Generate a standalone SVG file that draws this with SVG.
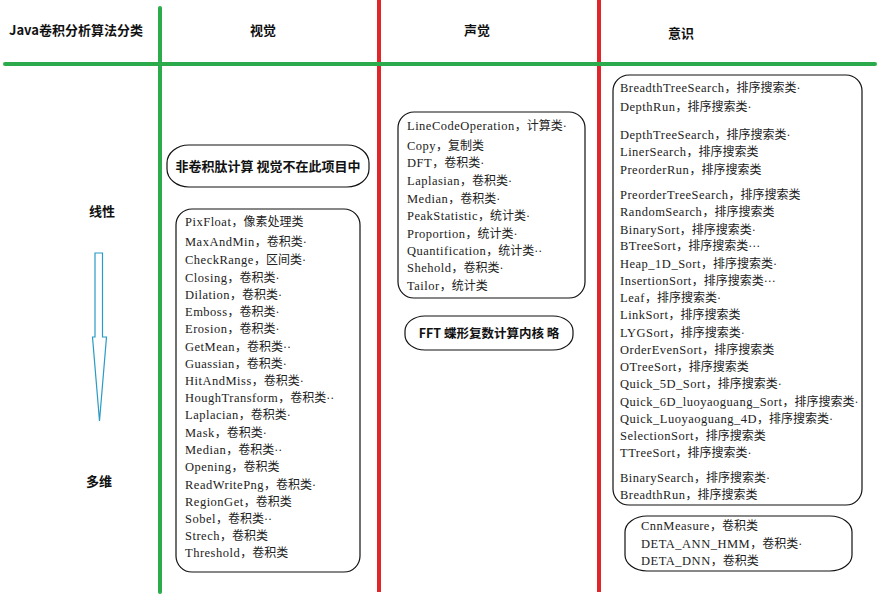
<svg xmlns="http://www.w3.org/2000/svg" width="892" height="607" viewBox="0 0 892 607">
<style>
.hd{font-family:"Noto Sans CJK SC","Liberation Sans",sans-serif;font-weight:bold;font-size:13px;fill:#111}
.li{font-family:"Liberation Serif","Noto Sans CJK SC",serif;font-size:12px;fill:#222}
.li tspan{font-size:12.5px;letter-spacing:0.5px}
.bx{fill:#fff;stroke:#111;stroke-width:1.2}
.g{stroke:#2bab4c;stroke-width:4;stroke-linecap:round}
.r{stroke:#e0262b;stroke-width:4}
</style>
<rect width="892" height="607" fill="#fff"/>
<g id="connectors">
<line class="r" x1="379" y1="0" x2="379" y2="592"/>
<line class="r" x1="599" y1="0" x2="599" y2="592"/>
<line class="g" x1="160" y1="8" x2="160" y2="592"/>
<line class="g" x1="5" y1="64" x2="875" y2="64"/>
<polygon points="95,253 102.5,253 102.5,337 106.5,337 99.5,421 92.5,337 95,337" fill="#fff" stroke="#2a9bc4" stroke-width="1.2"/>
</g>
<g id="header">
<text class="hd" x="76" y="35" text-anchor="middle">Java卷积分析算法分类</text>
<text class="hd" x="263" y="35" text-anchor="middle">视觉</text>
<text class="hd" x="477" y="35" text-anchor="middle">声觉</text>
<text class="hd" x="681" y="38" text-anchor="middle">意识</text>
<text class="hd" x="102" y="216" text-anchor="middle">线性</text>
<text class="hd" x="99" y="486" text-anchor="middle">多维</text>
</g>
<g id="note-vision">
<rect class="bx" x="167" y="145" width="202" height="42" rx="22" ry="18"/>
<text class="hd" x="268" y="171" text-anchor="middle">非卷积肽计算 视觉不在此项目中</text>
</g>
<g id="list-vision">
<rect class="bx" x="176" y="209" width="184" height="363" rx="16"/>
<g class="li">
<text x="185" y="226"><tspan>PixFloat</tspan>，像素处理类</text>
<text x="185" y="246"><tspan>MaxAndMin</tspan>，卷积类·</text>
<text x="185" y="264"><tspan>CheckRange</tspan>，区间类·</text>
<text x="185" y="282"><tspan>Closing</tspan>，卷积类·</text>
<text x="185" y="299"><tspan>Dilation</tspan>，卷积类·</text>
<text x="185" y="316"><tspan>Emboss</tspan>，卷积类·</text>
<text x="185" y="333"><tspan>Erosion</tspan>，卷积类·</text>
<text x="185" y="351"><tspan>GetMean</tspan>，卷积类··</text>
<text x="185" y="368"><tspan>Guassian</tspan>，卷积类·</text>
<text x="185" y="385"><tspan>HitAndMiss</tspan>，卷积类·</text>
<text x="185" y="402"><tspan>HoughTransform</tspan>，卷积类··</text>
<text x="185" y="419"><tspan>Laplacian</tspan>，卷积类·</text>
<text x="185" y="437"><tspan>Mask</tspan>，卷积类·</text>
<text x="185" y="454"><tspan>Median</tspan>，卷积类··</text>
<text x="185" y="471"><tspan>Opening</tspan>，卷积类</text>
<text x="185" y="489"><tspan>ReadWritePng</tspan>，卷积类·</text>
<text x="185" y="506"><tspan>RegionGet</tspan>，卷积类</text>
<text x="185" y="523"><tspan>Sobel</tspan>，卷积类··</text>
<text x="185" y="540"><tspan>Strech</tspan>，卷积类</text>
<text x="185" y="557"><tspan>Threshold</tspan>，卷积类</text>
</g>
</g>
<g id="list-sound">
<rect class="bx" x="398" y="112" width="187" height="186" rx="16"/>
<g class="li">
<text x="407" y="130"><tspan>LineCodeOperation</tspan>，计算类·</text>
<text x="407" y="150"><tspan>Copy</tspan>，复制类</text>
<text x="407" y="167"><tspan>DFT</tspan>，卷积类·</text>
<text x="407" y="185"><tspan>Laplasian</tspan>，卷积类·</text>
<text x="407" y="203"><tspan>Median</tspan>，卷积类·</text>
<text x="407" y="220"><tspan>PeakStatistic</tspan>，统计类·</text>
<text x="407" y="238"><tspan>Proportion</tspan>，统计类·</text>
<text x="407" y="255"><tspan>Quantification</tspan>，统计类··</text>
<text x="407" y="272"><tspan>Shehold</tspan>，卷积类·</text>
<text x="407" y="290"><tspan>Tailor</tspan>，统计类</text>
</g>
</g>
<g id="note-fft">
<rect class="bx" x="405" y="316" width="168" height="34" rx="20" ry="15"/>
<text class="hd" x="489" y="338" text-anchor="middle" style="font-size:12.5px">FFT 蝶形复数计算内核  略</text>
</g>
<g id="list-mind">
<rect class="bx" x="613" y="75" width="249" height="430" rx="16"/>
<g class="li">
<text x="620" y="92"><tspan>BreadthTreeSearch</tspan>，排序搜索类·</text>
<text x="620" y="111"><tspan>DepthRun</tspan>，排序搜索类·</text>
<text x="620" y="139"><tspan>DepthTreeSearch</tspan>，排序搜索类·</text>
<text x="620" y="156"><tspan>LinerSearch</tspan>，排序搜索类</text>
<text x="620" y="174"><tspan>PreorderRun</tspan>，排序搜索类</text>
<text x="620" y="199"><tspan>PreorderTreeSearch</tspan>，排序搜索类</text>
<text x="620" y="216"><tspan>RandomSearch</tspan>，排序搜索类</text>
<text x="620" y="234"><tspan>BinarySort</tspan>，排序搜索类·</text>
<text x="620" y="250"><tspan>BTreeSort</tspan>，排序搜索类···</text>
<text x="620" y="268"><tspan>Heap_1D_Sort</tspan>，排序搜索类·</text>
<text x="620" y="285"><tspan>InsertionSort</tspan>，排序搜索类···</text>
<text x="620" y="302"><tspan>Leaf</tspan>，排序搜索类·</text>
<text x="620" y="319"><tspan>LinkSort</tspan>，排序搜索类</text>
<text x="620" y="337"><tspan>LYGSort</tspan>，排序搜索类·</text>
<text x="620" y="354"><tspan>OrderEvenSort</tspan>，排序搜索类</text>
<text x="620" y="371"><tspan>OTreeSort</tspan>，排序搜索类</text>
<text x="620" y="388"><tspan>Quick_5D_Sort</tspan>，排序搜索类·</text>
<text x="620" y="406"><tspan>Quick_6D_luoyaoguang_Sort</tspan>，排序搜索类·</text>
<text x="620" y="423"><tspan>Quick_Luoyaoguang_4D</tspan>，排序搜索类·</text>
<text x="620" y="440"><tspan>SelectionSort</tspan>，排序搜索类</text>
<text x="620" y="457"><tspan>TTreeSort</tspan>，排序搜索类·</text>
<text x="620" y="482"><tspan>BinarySearch</tspan>，排序搜索类·</text>
<text x="620" y="499"><tspan>BreadthRun</tspan>，排序搜索类</text>
</g>
</g>
<g id="list-mind-deep">
<rect class="bx" x="625" y="516" width="227" height="55" rx="22" ry="16"/>
<g class="li">
<text x="641" y="530"><tspan>CnnMeasure</tspan>，卷积类</text>
<text x="641" y="548"><tspan>DETA_ANN_HMM</tspan>，卷积类·</text>
<text x="641" y="565"><tspan>DETA_DNN</tspan>，卷积类</text>
</g>
</g>
</svg>
